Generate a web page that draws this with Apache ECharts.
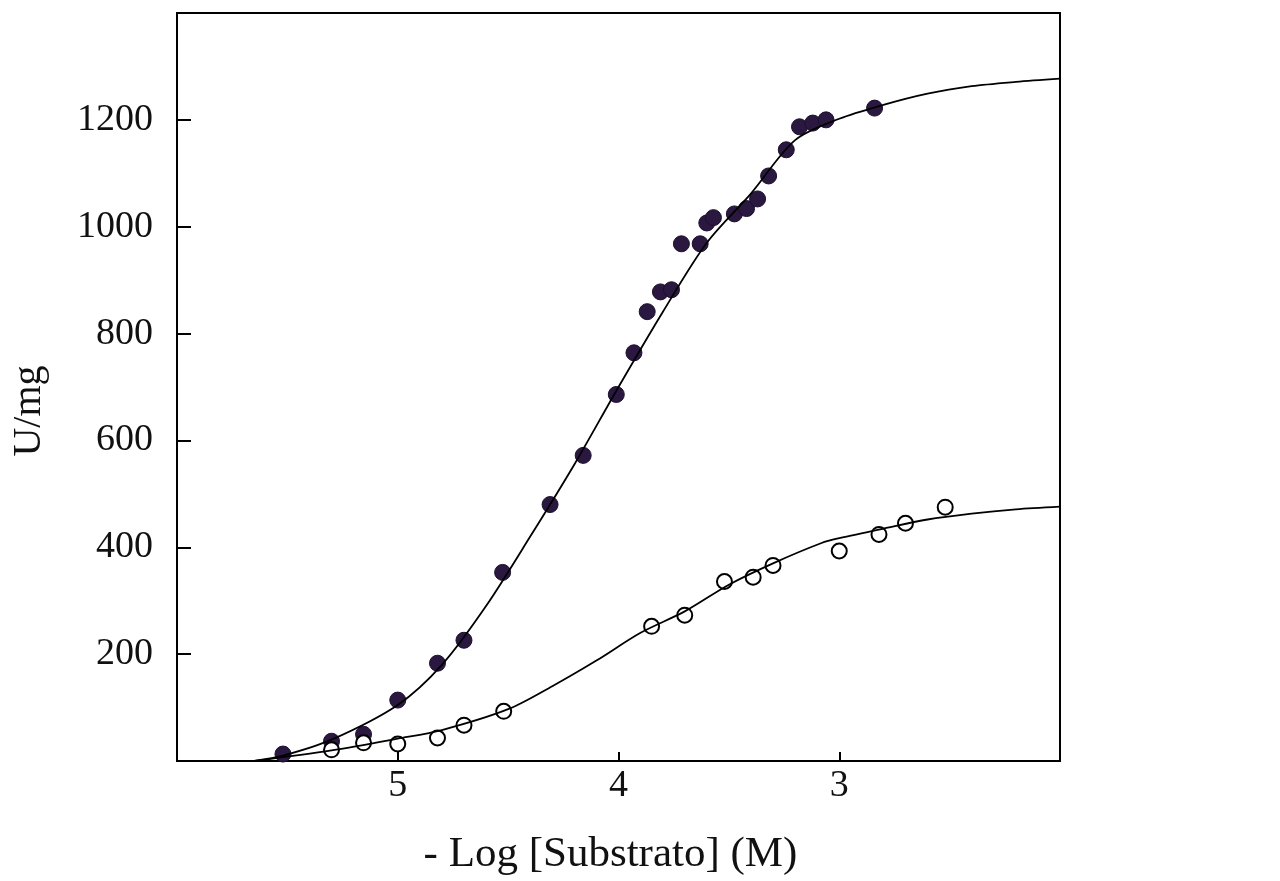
<!DOCTYPE html>
<html lang="es">
<head>
    <meta charset="UTF-8">
    <title>U/mg vs - Log [Substrato]</title>
    <script src="https://cdn.jsdelivr.net/npm/echarts@6/dist/echarts.min.js"></script>
    <style>
        body{
            margin: 0;
            background: #fff;
        }
    </style>
</head>
<body>
<div id="chart" style="width: 1280px; height: 881px;"></div>
<script>
    // puntos llenos (-log[S], U/mg)
    var llenoX = [5.52, 5.30, 5.155, 5.0, 4.82, 4.70, 4.525, 4.31, 4.16, 4.01, 3.93, 3.87, 3.81, 3.76, 3.715, 3.63, 3.60, 3.57, 3.475, 3.42, 3.37, 3.32, 3.24, 3.18, 3.12, 3.06, 2.84];
    var llenoY = [13, 37, 50, 114, 183, 226, 353, 480, 572, 686, 764, 841, 878, 882, 968, 968, 1007, 1017, 1024, 1034, 1052, 1095, 1144, 1187, 1194, 1200, 1222];
    // curva ajustada (puntos llenos)
    var curvaLlenoX = [5.65, 5.52, 5.3, 5.0, 4.8, 4.6, 4.4, 4.2, 4.0, 3.8, 3.6, 3.4, 3.2, 3.0, 2.8, 2.6, 2.4, 2.2, 2.0];
    var curvaLlenoY = [0, 10, 40, 105, 180, 290, 420, 555, 700, 840, 970, 1062, 1162, 1202, 1228, 1249, 1263, 1271, 1277];

    // puntos vacios
    var vacioX = [5.30, 5.155, 5.0, 4.82, 4.70, 4.52, 3.85, 3.70, 3.52, 3.39, 3.30, 3.00, 2.82, 2.70, 2.52];
    var vacioY = [21, 34, 32, 43, 67, 93, 252, 273, 336, 344, 366, 393, 424, 445, 475];
    // curva ajustada (puntos vacios)
    var curvaVacioX = [5.65, 5.3, 5.0, 4.8, 4.5, 4.3, 4.1, 3.9, 3.7, 3.5, 3.3, 3.08, 3.0, 2.8, 2.6, 2.4, 2.2, 2.0];
    var curvaVacioY = [0, 20, 42, 58, 97, 140, 188, 240, 280, 330, 370, 408, 417, 435, 452, 463, 471, 476];

    var yTicks = [200, 400, 600, 800, 1000, 1200];
    var xTicks = [5, 4, 3];

    function pares(xs, ys){
        return xs.map(function(x, i){ return [x, ys[i]]; });
    }

    var fuente = 'Liberation Serif';
    var myChart = echarts.init(document.getElementById('chart'));
    myChart.setOption({
        animation: false,
        grid: {
            left: 177, right: 220, top: 13, bottom: 118,
            show: true, borderColor: '#000', borderWidth: 2
        },
        xAxis: {
            type: 'value', min: 2, max: 6, interval: 1, inverse: true,
            name: '- Log [Substrato] (M)',
            nameLocation: 'middle', nameGap: 72,
            nameTextStyle: { fontFamily: fuente, fontSize: 43, color: '#111', padding: [0, 16, 0, 0] },
            axisLine: { lineStyle: { color: '#000', width: 2 } },
            axisTick: { inside: true, length: 9, lineStyle: { color: '#000', width: 2 } },
            axisLabel: {
                fontFamily: fuente, fontSize: 38, color: '#111', margin: 6,
                formatter: function(v){ return xTicks.indexOf(v) >= 0 ? String(v) : ''; }
            },
            splitLine: { show: false }
        },
        yAxis: {
            type: 'value', min: 0, max: 1400, interval: 200,
            name: 'U/mg',
            nameLocation: 'middle', nameGap: 128, nameRotate: 90,
            nameTextStyle: { fontFamily: fuente, fontSize: 40, color: '#111', padding: [0, 48, 0, 0] },
            axisLine: { lineStyle: { color: '#000', width: 2 } },
            axisTick: { inside: true, length: 14, lineStyle: { color: '#000', width: 2 } },
            axisLabel: {
                fontFamily: fuente, fontSize: 38, color: '#111', margin: 24,
                formatter: function(v){ return yTicks.indexOf(v) >= 0 ? String(v) : ''; }
            },
            splitLine: { show: false }
        },
        series: [
            {
                type: 'scatter', data: pares(llenoX, llenoY), symbolSize: 16,
                itemStyle: { color: '#2a1840', borderColor: '#1c0f2c', borderWidth: 1, opacity: 1 }, z: 2
            },
            {
                type: 'scatter', data: pares(vacioX, vacioY), symbolSize: 15,
                itemStyle: { color: '#fff', borderColor: '#000', borderWidth: 2, opacity: 1 }, z: 2
            },
            {
                type: 'line', data: pares(curvaLlenoX, curvaLlenoY), smooth: 0.3, showSymbol: false,
                lineStyle: { color: '#000', width: 1.8 }, z: 3
            },
            {
                type: 'line', data: pares(curvaVacioX, curvaVacioY), smooth: 0.3, showSymbol: false,
                lineStyle: { color: '#000', width: 1.8 }, z: 3
            }
        ]
    });
</script>
</body>
</html>
